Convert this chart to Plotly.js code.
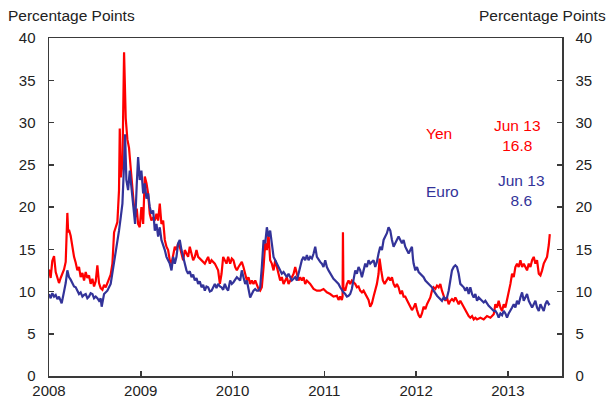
<!DOCTYPE html>
<html>
<head>
<meta charset="utf-8">
<script src="https://cdn.plot.ly/plotly-3.0.1.min.js"></script>
<style>html,body{margin:0;padding:0;background:#fff;}#chart{width:616px;height:399px;}</style>
</head>
<body>
<div id="chart"></div>
<script>
// Decimal-year positions and values (percentage points)
const yenX = [2008.000,2008.018,2008.036,2008.055,2008.073,2008.091,2008.109,2008.127,2008.145,2008.164,2008.182,2008.200,2008.209,2008.218,2008.236,2008.254,2008.273,2008.291,2008.309,2008.327,2008.345,2008.364,2008.382,2008.400,2008.418,2008.436,2008.454,2008.473,2008.491,2008.509,2008.527,2008.545,2008.563,2008.582,2008.600,2008.618,2008.636,2008.654,2008.672,2008.691,2008.709,2008.727,2008.745,2008.763,2008.771,2008.782,2008.800,2008.818,2008.829,2008.836,2008.854,2008.872,2008.891,2008.909,2008.927,2008.945,2008.956,
2008.971,2008.989,2009.007,2009.026,2009.044,2009.062,2009.080,2009.098,2009.116,2009.135,2009.153,2009.171,2009.189,2009.207,2009.225,2009.244,2009.262,2009.280,2009.298,2009.316,2009.335,2009.353,2009.371,2009.389,2009.407,2009.425,2009.444,2009.462,2009.480,2009.498,2009.516,2009.534,2009.553,2009.571,2009.589,2009.607,2009.625,2009.662,2009.698,2009.716,2009.734,2009.753,2009.771,2009.807,2009.825,2009.843,2009.862,2009.880,2009.898,2009.916,2009.934,2009.952,
2009.974,2009.992,2010.010,2010.029,2010.047,2010.065,2010.083,2010.101,2010.119,2010.138,2010.156,2010.174,2010.192,2010.210,2010.228,2010.247,2010.265,2010.283,2010.301,2010.319,2010.338,2010.356,2010.374,2010.392,2010.410,2010.428,2010.447,2010.465,2010.483,2010.501,2010.519,2010.537,2010.556,2010.574,2010.592,2010.610,2010.628,2010.646,2010.665,2010.683,2010.701,2010.719,2010.737,2010.755,2010.774,2010.792,2010.810,2010.846,2010.883,2010.919,
2010.955,2010.991,2011.028,2011.064,2011.100,2011.137,2011.155,2011.173,2011.191,2011.199,2011.203,2011.208,2011.228,2011.246,2011.264,2011.282,2011.300,2011.319,2011.337,2011.355,2011.373,2011.391,2011.410,2011.428,2011.464,2011.482,2011.500,2011.519,2011.537,2011.555,2011.573,2011.591,2011.602,2011.620,2011.638,2011.657,2011.682,2011.700,2011.719,2011.737,2011.755,2011.773,2011.791,2011.809,2011.828,2011.846,2011.864,2011.882,2011.900,2011.919,
2011.937,2011.955,2011.973,2011.992,2012.010,2012.028,2012.046,2012.064,2012.082,2012.101,2012.119,2012.137,2012.155,2012.173,2012.191,2012.210,2012.228,2012.246,2012.264,2012.282,2012.301,2012.319,2012.337,2012.355,2012.373,2012.391,2012.410,2012.428,2012.446,2012.464,2012.482,2012.501,2012.519,2012.537,2012.555,2012.573,2012.591,2012.610,2012.628,2012.646,2012.664,2012.701,2012.737,2012.773,2012.810,2012.846,
2012.864,2012.882,2012.900,2012.919,2012.937,2012.955,2012.973,2012.991,2013.009,2013.028,2013.046,2013.064,2013.082,2013.100,2013.118,2013.137,2013.155,2013.173,2013.191,2013.209,2013.228,2013.246,2013.264,2013.282,2013.300,2013.318,2013.337,2013.355,2013.373,2013.391,2013.409,2013.427,2013.446,2013.457];
const yenY = [12.6,11.6,13.6,14.2,12.3,11.6,11.0,11.6,12.1,12.6,13.5,19.3,17.0,17.3,16.6,15.3,14.1,13.4,12.5,12.9,11.7,12.2,11.3,12.3,11.6,11.9,10.9,11.5,10.6,11.2,13.1,11.0,10.4,10.2,10.8,10.5,11.0,11.4,12.0,13.3,17.0,17.6,18.2,22.0,29.3,23.5,25.0,38.3,32.5,30.5,28.0,27.0,24.5,22.0,20.0,18.8,19.8,
18.0,17.6,20.0,18.0,23.6,22.8,21.6,19.2,18.4,18.8,18.4,19.2,18.4,20.4,18.0,18.4,16.1,15.3,14.9,13.7,13.3,14.5,15.3,14.9,15.7,15.3,14.5,13.7,14.9,14.5,14.1,15.3,14.5,13.7,14.1,14.9,14.1,13.7,13.3,13.7,14.1,13.3,13.7,13.3,12.9,12.5,10.9,12.1,14.1,13.7,13.3,14.1,
13.3,13.9,13.7,12.9,12.5,12.9,13.3,13.5,12.9,12.1,11.3,11.7,10.9,11.3,10.9,11.3,10.9,10.3,10.1,10.5,12.9,15.7,14.9,16.8,13.7,13.3,12.5,13.7,12.9,12.1,11.3,11.7,10.9,11.3,11.7,10.9,11.3,11.7,12.1,12.9,12.1,11.3,11.7,11.3,11.7,10.9,11.3,10.9,10.3,10.1,
10.1,10.3,9.9,9.7,9.4,9.5,9.0,9.4,9.0,9.4,17.0,10.5,10.1,10.9,11.3,10.9,11.3,11.1,10.9,10.5,10.6,10.1,9.9,10.1,9.4,9.0,8.2,8.6,9.4,10.1,10.9,12.1,13.9,12.5,11.3,10.9,11.3,11.7,11.3,11.7,10.9,10.5,10.9,10.5,9.7,10.1,9.4,9.4,9.0,8.6,
8.1,7.8,8.1,8.6,7.8,7.2,6.9,7.4,8.2,7.9,8.5,8.9,9.3,10.1,10.5,10.3,10.7,10.5,10.9,10.1,9.5,8.9,9.3,8.5,8.9,9.1,8.9,9.3,8.9,8.5,8.9,8.5,8.1,7.7,7.3,7.1,6.9,7.1,6.7,6.9,6.7,6.9,6.7,7.1,6.9,7.3,
8.5,8.1,8.9,8.1,7.7,8.5,8.1,8.9,9.7,10.9,12.1,11.7,12.9,13.3,12.9,13.7,12.9,13.3,12.9,12.5,13.3,12.9,13.7,14.1,13.3,13.7,12.1,11.9,12.5,13.3,13.7,14.1,15.5,16.8];

const euroX = [2008.000,2008.018,2008.036,2008.055,2008.073,2008.091,2008.109,2008.127,2008.138,2008.164,2008.182,2008.200,2008.218,2008.236,2008.254,2008.273,2008.291,2008.309,2008.327,2008.345,2008.364,2008.382,2008.400,2008.418,2008.436,2008.454,2008.473,2008.491,2008.509,2008.527,2008.545,2008.563,2008.574,2008.600,2008.636,2008.672,2008.709,2008.727,2008.763,2008.782,2008.800,2008.818,2008.829,2008.843,2008.862,2008.880,2008.909,2008.938,2008.956,
2008.971,2008.989,2009.007,2009.026,2009.044,2009.062,2009.080,2009.098,2009.116,2009.135,2009.153,2009.171,2009.189,2009.207,2009.225,2009.262,2009.280,2009.298,2009.316,2009.335,2009.353,2009.371,2009.389,2009.407,2009.425,2009.444,2009.462,2009.480,2009.498,2009.516,2009.534,2009.553,2009.571,2009.589,2009.607,2009.625,2009.643,2009.662,2009.680,2009.698,2009.716,2009.734,2009.753,2009.771,2009.789,2009.807,2009.825,2009.843,2009.862,2009.880,2009.898,2009.916,2009.934,2009.952,
2009.974,2009.992,2010.010,2010.047,2010.083,2010.101,2010.119,2010.138,2010.156,2010.174,2010.192,2010.210,2010.228,2010.247,2010.265,2010.283,2010.301,2010.319,2010.338,2010.356,2010.374,2010.392,2010.410,2010.428,2010.447,2010.465,2010.483,2010.501,2010.519,2010.537,2010.556,2010.574,2010.592,2010.610,2010.628,2010.646,2010.665,2010.683,2010.701,2010.719,2010.737,2010.755,2010.774,2010.792,2010.810,2010.828,2010.846,2010.865,2010.883,2010.901,2010.919,2010.937,
2010.955,2010.973,2010.991,2011.010,2011.028,2011.046,2011.064,2011.082,2011.100,2011.119,2011.137,2011.155,2011.173,2011.191,2011.209,2011.228,2011.246,2011.264,2011.282,2011.300,2011.319,2011.337,2011.355,2011.373,2011.391,2011.410,2011.428,2011.446,2011.464,2011.482,2011.500,2011.519,2011.537,2011.555,2011.573,2011.591,2011.609,2011.628,2011.646,2011.664,2011.682,2011.700,2011.719,2011.737,2011.755,2011.773,2011.791,2011.809,2011.828,2011.846,2011.864,2011.882,2011.900,2011.919,
2011.937,2011.955,2011.966,2011.973,2011.992,2012.010,2012.028,2012.046,2012.064,2012.082,2012.101,2012.119,2012.137,2012.155,2012.173,2012.191,2012.210,2012.228,2012.246,2012.264,2012.282,2012.301,2012.319,2012.337,2012.355,2012.373,2012.391,2012.410,2012.428,2012.446,2012.464,2012.482,2012.501,2012.519,2012.537,2012.555,2012.573,2012.591,2012.610,2012.628,2012.646,2012.664,2012.682,2012.701,2012.719,2012.737,2012.755,2012.773,2012.791,2012.810,2012.828,2012.846,
2012.864,2012.882,2012.900,2012.919,2012.937,2012.955,2012.973,2012.991,2013.009,2013.028,2013.046,2013.064,2013.082,2013.100,2013.118,2013.137,2013.155,2013.173,2013.191,2013.209,2013.228,2013.246,2013.264,2013.282,2013.300,2013.318,2013.337,2013.355,2013.373,2013.391,2013.409,2013.427,2013.446,2013.457];
const euroY = [9.7,9.2,9.8,9.4,9.6,9.1,9.4,9.0,8.6,10.0,11.0,12.5,11.7,11.4,11.0,10.6,10.5,10.1,9.7,9.9,9.4,9.6,9.7,9.2,9.4,9.8,9.7,9.2,9.4,9.2,8.9,9.2,8.2,9.7,10.1,10.9,13.3,14.9,17.2,18.8,20.4,25.1,28.6,23.2,22.0,24.3,21.2,18.0,22.6,
25.9,23.2,24.3,21.6,22.8,21.0,21.6,20.0,19.2,19.6,17.2,18.0,16.5,17.6,16.1,14.9,14.1,13.7,13.3,12.5,14.1,13.3,14.1,15.7,16.1,14.9,14.1,13.3,12.5,12.1,12.4,11.7,12.0,11.3,11.6,10.9,11.2,10.5,10.8,10.1,10.6,10.5,10.0,10.1,10.6,10.9,10.4,10.9,10.6,10.5,10.2,10.9,10.4,10.1,
11.3,10.9,11.1,11.7,11.3,12.5,11.7,10.9,11.3,10.1,9.3,9.7,10.1,10.3,10.1,10.1,10.5,12.9,16.1,15.7,17.6,16.5,17.2,15.7,14.1,13.7,13.3,12.9,12.5,12.1,12.3,11.9,11.7,12.1,11.7,11.3,11.5,11.7,11.3,12.1,12.9,13.7,14.1,13.7,14.3,13.7,14.1,13.9,14.5,15.3,14.1,13.7,
13.5,13.3,12.9,13.7,12.9,12.5,12.1,11.9,11.5,11.3,11.1,10.9,10.5,10.1,9.9,9.7,9.4,9.5,9.7,10.3,11.3,12.5,12.1,12.9,12.5,11.7,12.5,13.3,12.9,13.7,13.3,13.5,13.7,12.9,13.5,14.5,15.3,14.9,16.1,16.5,16.9,17.6,17.2,16.1,15.3,15.7,16.1,16.5,16.1,15.7,16.1,15.3,14.9,14.5,
14.9,15.3,13.9,13.3,12.5,12.9,12.3,12.1,11.9,11.7,11.3,11.1,10.9,10.7,10.5,10.1,9.7,9.5,9.3,9.1,8.9,9.3,9.1,9.3,10.1,11.3,12.5,12.9,13.1,12.9,12.1,10.9,10.7,10.5,10.1,10.5,9.7,10.5,9.7,9.3,9.7,8.9,9.3,9.1,8.9,8.7,8.9,8.5,8.3,8.1,7.9,7.7,
7.7,7.4,6.9,7.4,7.2,7.7,7.4,6.9,7.4,7.7,8.1,8.5,8.1,8.9,8.5,9.3,9.9,8.9,9.3,9.7,8.9,8.5,8.1,8.5,8.9,8.1,7.7,8.5,8.1,7.7,8.5,8.9,8.5,8.6];

const yearTicks = [2008, 2009, 2010, 2011, 2012, 2013];
const yearLabels = ["2008", "2009", "2010", "2011", "2012", "2013"];
const valueTicks = [0, 5, 10, 15, 20, 25, 30, 35, 40];

const RED = "#ff0000";
const BLUE = "#333399";
const FONT = "Liberation Sans, Arial, sans-serif";
const AXC = "#3a3a3a";

const traces = [
  {x: euroX, y: euroY, type: "scatter", mode: "lines", name: "Euro",
   line: {color: BLUE, width: 2.2}, yaxis: "y2", hoverinfo: "skip"},
  {x: yenX, y: yenY, type: "scatter", mode: "lines", name: "Yen",
   line: {color: RED, width: 2.2}, hoverinfo: "skip"}
];

const yCommon = {
  range: [0, 40], tickvals: valueTicks, ticks: "inside", ticklen: 5, tickwidth: 1.5,
  tickcolor: AXC, showline: true, linecolor: AXC, linewidth: 1.5, showgrid: false,
  zeroline: false, tickfont: {family: FONT, size: 15, color: "#222"}, ticklabelstandoff: 9
};

const layout = {
  width: 616, height: 399,
  margin: {l: 49, r: 54, t: 38, b: 23, pad: 0},
  paper_bgcolor: "#fff", plot_bgcolor: "#fff",
  showlegend: false,
  font: {family: FONT, size: 15, color: "#222"},
  xaxis: {
    range: [2008, 2013.59], tickvals: yearTicks, ticktext: yearLabels,
    ticks: "inside", ticklen: 5, tickwidth: 1.5, tickcolor: AXC,
    showline: true, linecolor: AXC, linewidth: 1.5, mirror: true,
    showgrid: false, zeroline: false,
    tickfont: {family: FONT, size: 15, color: "#222"}, ticklabelstandoff: 0
  },
  yaxis: Object.assign({side: "left"}, yCommon),
  yaxis2: Object.assign({side: "right", overlaying: "y"}, yCommon),
  annotations: [
    {text: "Percentage Points", xref: "paper", yref: "paper", x: -0.084, y: 1.0, xanchor: "left", yanchor: "bottom", yshift: 12, showarrow: false, font: {family: FONT, size: 15.5, color: "#222"}},
    {text: "Percentage Points", xref: "paper", yref: "paper", x: 1.09, y: 1.0, xanchor: "right", yanchor: "bottom", yshift: 12, showarrow: false, font: {family: FONT, size: 15.5, color: "#222"}},
    {text: "Yen", xref: "paper", yref: "paper", x: 0.760, y: 0.716, xanchor: "center", yanchor: "middle", showarrow: false, font: {family: FONT, size: 15.5, color: RED}},
    {text: "Jun 13<br>16.8", xref: "paper", yref: "paper", x: 0.914, y: 0.712, xanchor: "center", yanchor: "middle", showarrow: false, font: {family: FONT, size: 15.5, color: RED}},
    {text: "Euro", xref: "paper", yref: "paper", x: 0.768, y: 0.547, xanchor: "center", yanchor: "middle", showarrow: false, font: {family: FONT, size: 15.5, color: BLUE}},
    {text: "Jun 13<br>8.6", xref: "paper", yref: "paper", x: 0.921, y: 0.550, xanchor: "center", yanchor: "middle", showarrow: false, font: {family: FONT, size: 15.5, color: BLUE}}
  ]
};

Plotly.newPlot("chart", traces, layout, {staticPlot: true, displayModeBar: false});
</script>
</body>
</html>
